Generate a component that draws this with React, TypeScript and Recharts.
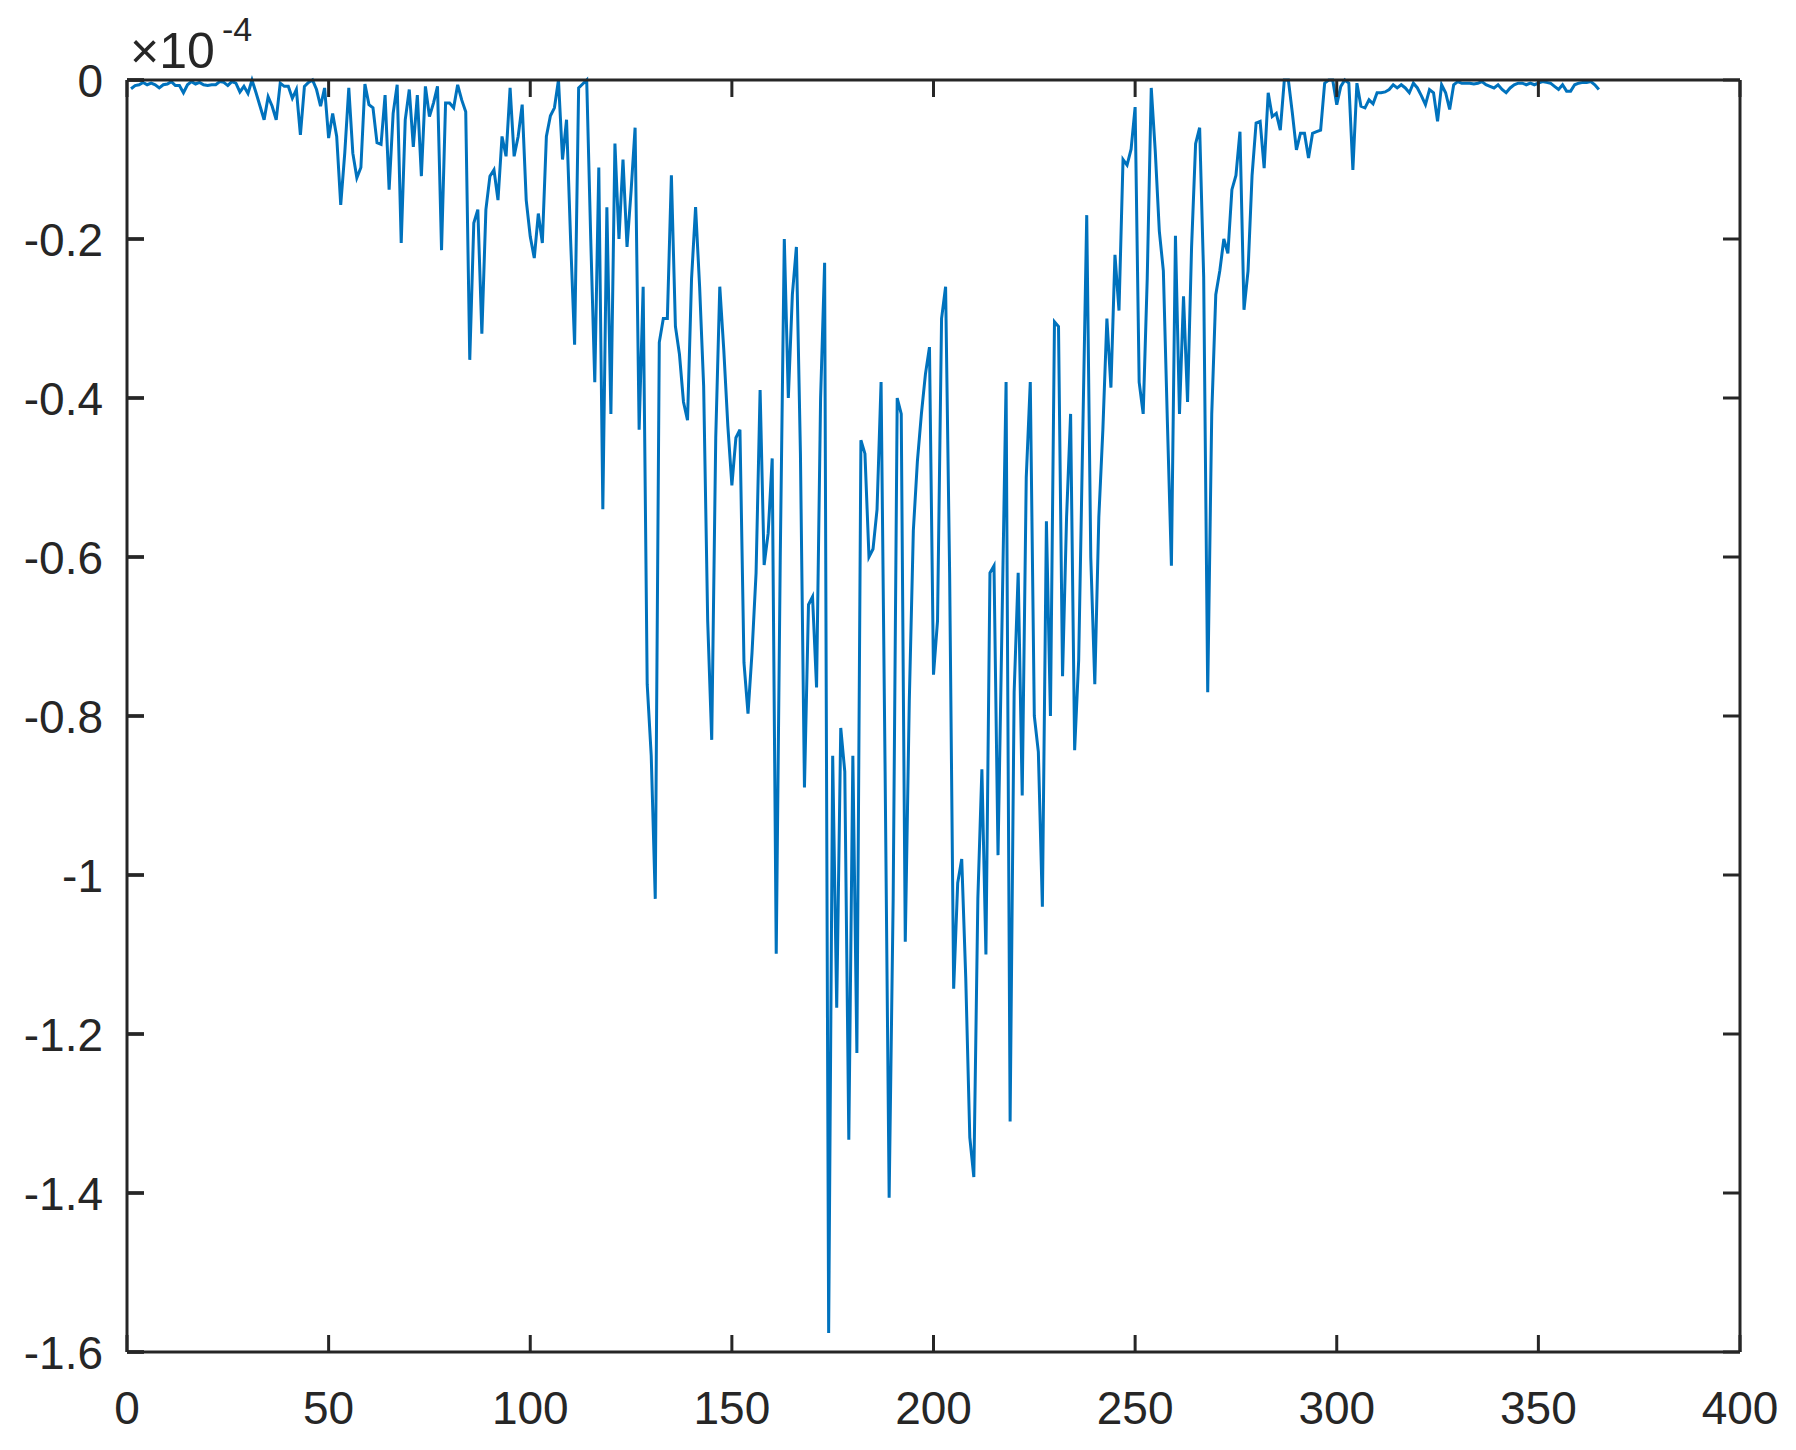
import React from 'react';
import { LineChart, Line, XAxis, YAxis } from 'recharts';

// values, in units of 1e-4, one per day (day 1..365)
const values: number[] = [
  -0.011, -0.007, -0.006, -0.003, -0.006, -0.004, -0.006, -0.010, -0.006, -0.005,
  -0.002, -0.007, -0.007, -0.016, -0.006, -0.002, -0.005, -0.003, -0.006, -0.007,
  -0.006, -0.006, -0.002, -0.003, -0.007, -0.002, -0.004, -0.015, -0.008, -0.017,
  0, -0.016, -0.033, -0.050, -0.021, -0.033, -0.050, -0.004, -0.008, -0.008,
  -0.023, -0.012, -0.069, -0.008, -0.003, 0, -0.012, -0.033, -0.010, -0.073,
  -0.042, -0.071, -0.157, -0.092, -0.010, -0.092, -0.123, -0.110, -0.005, -0.031,
  -0.035, -0.079, -0.081, -0.019, -0.138, -0.042, -0.006, -0.205, -0.050, -0.012,
  -0.084, -0.019, -0.121, -0.008, -0.046, -0.029, -0.008, -0.214, -0.029, -0.029,
  -0.035, -0.006, -0.025, -0.040, -0.352, -0.180, -0.163, -0.319, -0.163, -0.121,
  -0.113, -0.151, -0.071, -0.096, -0.010, -0.096, -0.071, -0.031, -0.151, -0.197,
  -0.224, -0.168, -0.205, -0.071, -0.045, -0.035, 0, -0.100, -0.050, -0.200,
  -0.333, -0.010, -0.005, 0, -0.200, -0.380, -0.110, -0.540, -0.160, -0.420,
  -0.080, -0.200, -0.100, -0.210, -0.140, -0.060, -0.440, -0.260, -0.760, -0.850,
  -1.030, -0.330, -0.300, -0.300, -0.120, -0.310, -0.345, -0.405, -0.428, -0.250,
  -0.160, -0.260, -0.385, -0.680, -0.830, -0.450, -0.260, -0.340, -0.435, -0.510,
  -0.450, -0.440, -0.733, -0.797, -0.720, -0.620, -0.390, -0.610, -0.570, -0.476,
  -1.099, -0.600, -0.200, -0.400, -0.270, -0.210, -0.470, -0.890, -0.660, -0.650,
  -0.764, -0.400, -0.230, -1.576, -0.850, -1.167, -0.815, -0.870, -1.333, -0.850,
  -1.224, -0.453, -0.470, -0.600, -0.590, -0.540, -0.380, -0.870, -1.406, -1.030,
  -0.400, -0.420, -1.084, -0.780, -0.567, -0.480, -0.420, -0.370, -0.336, -0.748,
  -0.680, -0.300, -0.260, -0.620, -1.143, -1.010, -0.980, -1.130, -1.330, -1.380,
  -1.030, -0.867, -1.100, -0.620, -0.611, -0.975, -0.680, -0.380, -1.310, -0.770,
  -0.620, -0.900, -0.500, -0.380, -0.800, -0.845, -1.040, -0.555, -0.800, -0.304,
  -0.310, -0.750, -0.550, -0.420, -0.843, -0.730, -0.450, -0.170, -0.600, -0.760,
  -0.550, -0.440, -0.300, -0.387, -0.220, -0.290, -0.100, -0.107, -0.087, -0.034,
  -0.380, -0.420, -0.250, -0.010, -0.090, -0.190, -0.240, -0.430, -0.611, -0.196,
  -0.420, -0.272, -0.405, -0.210, -0.080, -0.060, -0.248, -0.770, -0.420, -0.270,
  -0.240, -0.200, -0.218, -0.138, -0.120, -0.065, -0.289, -0.240, -0.120, -0.054,
  -0.052, -0.111, -0.016, -0.046, -0.042, -0.063, 0, 0, -0.042, -0.088,
  -0.067, -0.067, -0.098, -0.067, -0.065, -0.063, -0.004, 0, 0, -0.031,
  -0.008, 0, -0.004, -0.113, -0.004, -0.033, -0.035, -0.025, -0.030, -0.016,
  -0.016, -0.015, -0.012, -0.006, -0.010, -0.006, -0.010, -0.016, -0.004, -0.010,
  -0.020, -0.031, -0.012, -0.016, -0.052, -0.006, -0.016, -0.037, -0.006, -0.002,
  -0.004, -0.004, -0.004, -0.005, -0.004, -0.002, -0.006, -0.008, -0.010, -0.006,
  -0.012, -0.016, -0.010, -0.006, -0.004, -0.004, -0.006, -0.004, -0.006, -0.004,
  -0.002, -0.003, -0.004, -0.008, -0.012, -0.006, -0.014, -0.014, -0.006, -0.004,
  -0.003, -0.003, -0.002, -0.006, -0.012,
];

const days: number[] = values.map((_, i) => i + 1);

const xTicks = [0, 50, 100, 150, 200, 250, 300, 350, 400];
const yTicks = [0, -0.2, -0.4, -0.6, -0.8, -1, -1.2, -1.4, -1.6];

const INK = '#262626';
const BLUE = '#0072BD';
const FONT = '"Liberation Sans", Arial, Helvetica, sans-serif';
const TICK = 17; // inward tick length

const W = 1780;
const H = 1442;
const MARGIN = { top: 71, right: 47, bottom: 28, left: 9 };
const Y_AXIS_W = 110;
const PLOT_W = W - MARGIN.left - MARGIN.right - Y_AXIS_W - 1;

const data = days.map((d, i) => ({ day: d, v: values[i] }));

const fmt = (v: number) => String(Number(v.toFixed(1)));

// ticks point inward (negative tickSize), tickMargin brings the label anchor back onto the axis line
const BottomLabel = (props: any) => {
  const { x, y, payload } = props;
  return (
    <text x={x} y={y + 72} textAnchor="middle" fontSize={46} fontFamily={FONT} fill={INK}>
      {fmt(payload.value)}
    </text>
  );
};

const LeftLabel = (props: any) => {
  const { x, y, payload } = props;
  return (
    <g>
      <line x1={x} y1={y} x2={x + TICK} y2={y} stroke={INK} strokeWidth={3} />
      <text x={x - 24} y={y + 17} textAnchor="end" fontSize={46} fontFamily={FONT} fill={INK}>
        {fmt(payload.value)}
      </text>
    </g>
  );
};

// right axis: its own tick line comes from recharts; also mirror the tick onto the left edge
const RightLabel = (props: any) => {
  const { x, y } = props;
  const leftX = x + TICK - PLOT_W;
  return <line x1={leftX} y1={y} x2={leftX + TICK} y2={y} stroke={INK} strokeWidth={3} />;
};

const NoLabel = () => <g />;

const axisLine = { stroke: INK, strokeWidth: 3 };
const tickLine = { stroke: INK, strokeWidth: 3 };

const App = () => {
  return (
    <div style={{ position: 'relative', width: W, height: H }}>
      <LineChart width={W} height={H} data={data} margin={MARGIN}>
        <XAxis
          dataKey="day"
          type="number"
          domain={[0, 400]}
          ticks={xTicks}
          interval={0}
          height={70}
          tickSize={-TICK}
          tickMargin={TICK}
          axisLine={axisLine}
          tickLine={tickLine}
          tick={BottomLabel}
        />
        <XAxis
          xAxisId="top"
          orientation="top"
          dataKey="day"
          type="number"
          domain={[0, 400]}
          ticks={xTicks}
          interval={0}
          height={1}
          tickSize={-TICK}
          tickMargin={0}
          axisLine={axisLine}
          tickLine={tickLine}
          tick={NoLabel}
        />
        <YAxis
          yAxisId="left"
          type="number"
          domain={[-1.6, 0]}
          ticks={yTicks}
          interval={0}
          width={Y_AXIS_W}
          tickSize={-TICK}
          tickMargin={TICK}
          axisLine={axisLine}
          tickLine={tickLine}
          tick={LeftLabel}
        />
        <YAxis
          yAxisId="right"
          orientation="right"
          type="number"
          domain={[-1.6, 0]}
          ticks={yTicks}
          interval={0}
          width={1}
          tickSize={-TICK}
          tickMargin={0}
          axisLine={axisLine}
          tickLine={tickLine}
          tick={RightLabel}
        />
        <Line
          yAxisId="left"
          dataKey="v"
          type="linear"
          stroke={BLUE}
          strokeWidth={3}
          dot={false}
          isAnimationActive={false}
        />
        <Line
          xAxisId="top"
          yAxisId="right"
          dataKey="v"
          type="linear"
          stroke="none"
          strokeWidth={0}
          dot={false}
          activeDot={false}
          isAnimationActive={false}
        />
      </LineChart>
      <svg
        width={320}
        height={80}
        style={{ position: 'absolute', left: 0, top: 0, pointerEvents: 'none' }}
      >
        <text x={122} y={60} fontSize={50} fontFamily={FONT} fill={INK}>
          ×10
        </text>
        <text x={214} y={33} fontSize={34} fontFamily={FONT} fill={INK}>
          -4
        </text>
      </svg>
    </div>
  );
};

export default App;
